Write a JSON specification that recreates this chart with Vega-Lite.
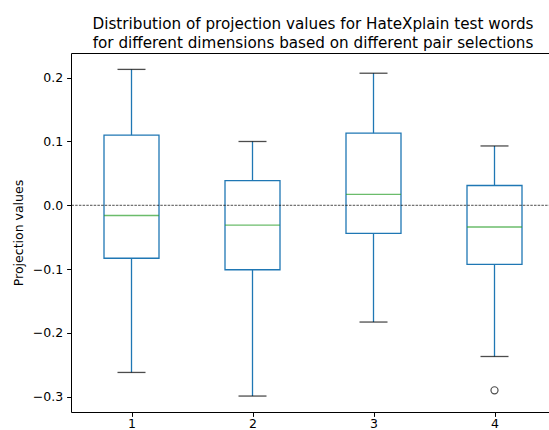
{
  "$schema": "https://vega.github.io/schema/vega-lite/v6.json",
  "autosize": "none",
  "width": 484,
  "height": 359,
  "padding": {"left": 71, "top": 53, "right": 0, "bottom": 18},
  "background": "white",
  "config": {
    "font": "DejaVu Sans",
    "view": {"stroke": "black", "strokeWidth": 1},
    "axis": {
      "grid": false,
      "domainColor": "black",
      "tickColor": "black",
      "labelColor": "black",
      "titleColor": "black",
      "labelFont": "DejaVu Sans",
      "titleFont": "DejaVu Sans",
      "labelFontSize": 12.5,
      "titleFontSize": 12.5,
      "titleFontWeight": "normal",
      "tickSize": 4.4,
      "labelPadding": 4,
      "domainWidth": 1,
      "tickWidth": 1
    }
  },
  "title": {
    "text": ["Distribution of projection values for HateXplain test words", "for different dimensions based on different pair selections"],
    "font": "DejaVu Sans",
    "fontSize": 15.2,
    "fontWeight": "normal",
    "color": "black",
    "lineHeight": 19,
    "baseline": "alphabetic",
    "offset": -10,
    "anchor": "middle"
  },
  "datasets": {
    "boxes": [
      {"dim": "1", "lower": -0.262, "q1": -0.083, "median": -0.016, "q3": 0.110, "upper": 0.213},
      {"dim": "2", "lower": -0.299, "q1": -0.101, "median": -0.031, "q3": 0.0386, "upper": 0.100},
      {"dim": "3", "lower": -0.183, "q1": -0.044, "median": 0.017, "q3": 0.113, "upper": 0.207},
      {"dim": "4", "lower": -0.237, "q1": -0.0925, "median": -0.034, "q3": 0.031, "upper": 0.093}
    ],
    "outliers": [
      {"dim": "4", "value": -0.290}
    ]
  },
  "encoding": {
    "x": {
      "field": "dim",
      "type": "ordinal",
      "scale": {"type": "point", "padding": 0.5, "domain": ["1", "2", "3", "4"]},
      "axis": {"title": null, "labelAngle": 0, "domain": false, "labelPadding": 1}
    }
  },
  "layer": [
    {
      "data": {"name": "boxes"},
      "mark": {"type": "rule", "color": "#1f77b4", "strokeWidth": 1.3},
      "encoding": {
        "y": {
          "field": "lower",
          "type": "quantitative",
          "scale": {"domain": [-0.324, 0.2387], "nice": false, "zero": false},
          "axis": {
            "title": "Projection values",
            "values": [-0.3, -0.2, -0.1, 0.0, 0.1, 0.2],
            "format": ".1f",
            "titlePadding": 7,
            "domain": false
          }
        },
        "y2": {"field": "q1"}
      }
    },
    {
      "data": {"name": "boxes"},
      "mark": {"type": "rule", "color": "#1f77b4", "strokeWidth": 1.3},
      "encoding": {
        "y": {"field": "q3", "type": "quantitative"},
        "y2": {"field": "upper"}
      }
    },
    {
      "data": {"name": "boxes"},
      "mark": {"type": "bar", "fill": null, "fillOpacity": 0, "stroke": "#1f77b4", "strokeWidth": 1.3, "size": 55},
      "encoding": {
        "y": {"field": "q1", "type": "quantitative"},
        "y2": {"field": "q3"}
      }
    },
    {
      "data": {"name": "boxes"},
      "mark": {"type": "tick", "color": "#2ca02c", "size": 55, "thickness": 1.3},
      "encoding": {
        "y": {"field": "median", "type": "quantitative"}
      }
    },
    {
      "data": {"name": "boxes"},
      "mark": {"type": "tick", "color": "black", "size": 28, "thickness": 1.3},
      "encoding": {
        "y": {"field": "lower", "type": "quantitative"}
      }
    },
    {
      "data": {"name": "boxes"},
      "mark": {"type": "tick", "color": "black", "size": 28, "thickness": 1.3},
      "encoding": {
        "y": {"field": "upper", "type": "quantitative"}
      }
    },
    {
      "data": {"name": "outliers"},
      "mark": {"type": "point", "shape": "circle", "filled": false, "color": "black", "strokeWidth": 1.2, "size": 50},
      "encoding": {
        "y": {"field": "value", "type": "quantitative"}
      }
    },
    {
      "data": {"values": [{}]},
      "mark": {"type": "rule", "color": "black", "strokeWidth": 0.7, "strokeDash": [2.5, 1.2]},
      "encoding": {
        "x": null,
        "y": {"datum": 0}
      }
    }
  ]
}
